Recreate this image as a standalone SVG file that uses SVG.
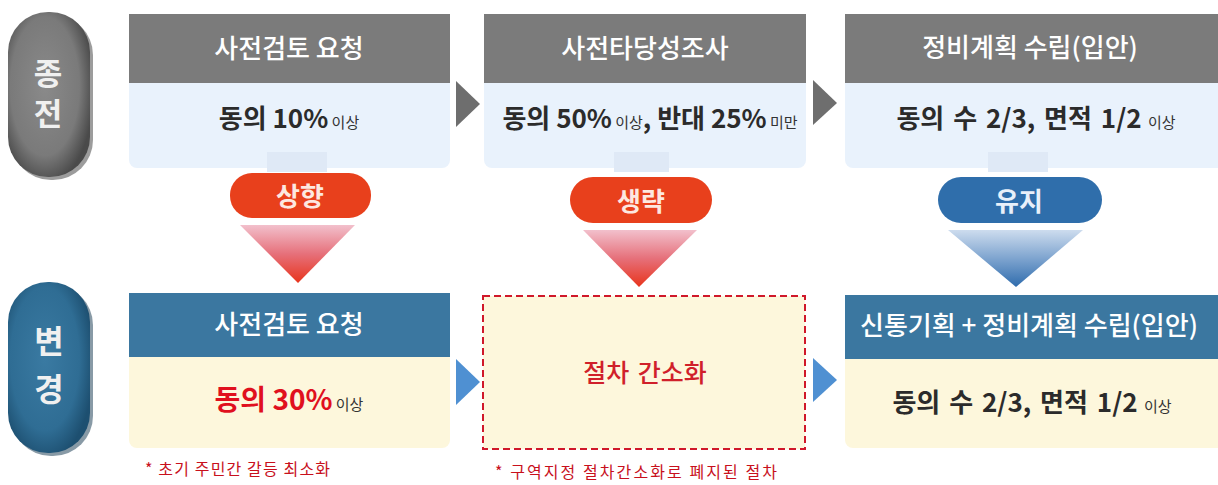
<svg xmlns="http://www.w3.org/2000/svg" width="1218" height="485" viewBox="0 0 1218 485">
<defs>
<style>
text{font-family:"Noto Sans CJK KR","Noto Sans",sans-serif;}
.hdr{fill:#ffffff;font-size:26px;font-weight:500;text-anchor:middle}
.hg{fill:#7b7b7b}
.hb{fill:#3b77a0}
.bg1{fill:#e9f2fc}
.bg2{fill:#fdf7dc}
.main{fill:#2b2b2b;font-size:26px;font-weight:700;text-anchor:middle}
.red{fill:#e0101e;font-size:28px}
.sm{font-size:15px;font-weight:400;fill:#333}
.side{fill:#f0f0f0;font-size:31px;font-weight:700;writing-mode:vertical-rl;text-orientation:upright}
.note{fill:#c8101c;font-size:16px}
.badge{fill:#fde8e0;font-size:26px;font-weight:700;text-anchor:middle}
.arrG{fill:#6e6e6e}
.arrB{fill:#4f90d2}
.stub{fill:#dfe9f6}
</style>
<radialGradient id="gGray" cx="0.45" cy="0.45" r="0.6">
<stop offset="0" stop-color="#8a8a8a"/><stop offset="0.7" stop-color="#7a7a7a"/><stop offset="1" stop-color="#4a4a4a"/>
</radialGradient>
<radialGradient id="gBlue" cx="0.45" cy="0.45" r="0.6">
<stop offset="0" stop-color="#3a7aa2"/><stop offset="0.7" stop-color="#2f6d94"/><stop offset="1" stop-color="#1d4f70"/>
</radialGradient>
<linearGradient id="triR" x1="0" y1="0" x2="0" y2="1">
<stop offset="0" stop-color="#f2c0cc"/><stop offset="0.5" stop-color="#e6707a"/><stop offset="1" stop-color="#e8341c"/>
</linearGradient>
<linearGradient id="triB" x1="0" y1="0" x2="0" y2="1">
<stop offset="0" stop-color="#cddcee"/><stop offset="0.5" stop-color="#7ea4cf"/><stop offset="1" stop-color="#2f6cad"/>
</linearGradient>
</defs>
<rect width="1218" height="485" fill="#ffffff"/>

<!-- side labels -->
<g id="side-before">
<rect x="11" y="15" width="82" height="165" rx="40" fill="#3a3a3a" opacity="0.5"/>
<rect x="8" y="12" width="82" height="165" rx="40" fill="url(#gGray)"/>
<text class="side" x="48" y="58" letter-spacing="9">종전</text>
</g>
<g id="side-after">
<rect x="11" y="285" width="82" height="171" rx="40" fill="#12364e" opacity="0.5"/>
<rect x="8" y="282" width="82" height="171" rx="40" fill="url(#gBlue)"/>
<text class="side" x="49" y="325" letter-spacing="16" style="font-size:32px">변경</text>
</g>

<!-- top row -->
<g id="top-1">
<rect class="hg" x="129" y="14" width="321" height="69"/>
<path class="bg1" d="M129 83H450V160a8 8 0 0 1-8 8H137a8 8 0 0 1-8-8Z"/>
<rect class="stub" x="267" y="152" width="60" height="20"/>
<text class="hdr" x="289" y="58">사전검토 요청</text>
<text class="main" x="289" y="128">동의 10%<tspan class="sm"> 이상</tspan></text>
</g>
<g id="top-2">
<rect class="hg" x="484" y="14" width="322" height="69"/>
<path class="bg1" d="M484 83H806V160a8 8 0 0 1-8 8H492a8 8 0 0 1-8-8Z"/>
<rect class="stub" x="614" y="152" width="55" height="20"/>
<text class="hdr" x="645" y="58">사전타당성조사</text>
<text class="main" x="650" y="128">동의 50%<tspan class="sm"> 이상</tspan>, 반대 25%<tspan class="sm"> 미만</tspan></text>
</g>
<g id="top-3">
<rect class="hg" x="845" y="14" width="380" height="69"/>
<path class="bg1" d="M845 83H1225V168H853a8 8 0 0 1-8-8Z"/>
<rect class="stub" x="988" y="152" width="60" height="20"/>
<text class="hdr" x="1030" y="57">정비계획 수립(입안)</text>
<text class="main" x="1036" y="128" word-spacing="3">동의 수 2/3, 면적 1/2<tspan class="sm"> 이상</tspan></text>
</g>

<!-- bottom row -->
<g id="bot-1">
<rect class="hb" x="129" y="293" width="321" height="64"/>
<path class="bg2" d="M129 357H450V440a8 8 0 0 1-8 8H137a8 8 0 0 1-8-8Z"/>
<text class="hdr" x="289" y="334">사전검토 요청</text>
<text class="main" x="289" y="410"><tspan class="red">동의 30%</tspan><tspan class="sm"> 이상</tspan></text>
</g>
<g id="bot-2">
<rect x="483" y="296" width="322" height="153" fill="#fdf7dc" stroke="#d0182a" stroke-width="2" stroke-dasharray="7 4"/>
<text x="645" y="382" fill="#d0202a" font-size="25" font-weight="500" text-anchor="middle" word-spacing="3">절차 간소화</text>
</g>
<g id="bot-3">
<rect class="hb" x="845" y="295" width="380" height="64"/>
<path class="bg2" d="M845 359H1225V448H853a8 8 0 0 1-8-8Z"/>
<text class="hdr" x="1029" y="335">신통기획 + 정비계획 수립(입안)</text>
<text class="main" x="1032" y="412" word-spacing="3">동의 수 2/3, 면적 1/2<tspan class="sm"> 이상</tspan></text>
</g>

<!-- badges -->
<g id="badge-up">
<rect x="230" y="173" width="141" height="45" rx="22" fill="#e8401c"/>
<text class="badge" x="300" y="206">상향</text>
</g>
<g id="badge-omit">
<rect x="570" y="177" width="142" height="46" rx="23" fill="#e8401c"/>
<text class="badge" x="641" y="211">생략</text>
</g>
<g id="badge-keep">
<rect x="938" y="177" width="164" height="46" rx="23" fill="#2f6eab"/>
<text class="badge" x="1019" y="211" style="fill:#e8f0fa">유지</text>
</g>

<!-- notes -->
<g id="note-1">
<text class="note" x="145" y="475" textLength="185">* 초기 주민간 갈등 최소화</text>
</g>
<g id="note-2">
<text class="note" x="495" y="478" textLength="282">* 구역지정 절차간소화로 폐지된 절차</text>
</g>

<!-- connectors -->
<g id="connectors">
<path class="arrG" d="M456 81L480 104L456 127Z"/>
<path class="arrG" d="M813 80L837 103L813 125Z"/>
<path class="arrB" d="M456 359L480 382L456 405Z"/>
<path class="arrB" d="M813 358L837 380L813 402Z"/>
<path d="M240 225H355L298 283Z" fill="url(#triR)"/>
<path d="M583 230H697L639 287Z" fill="url(#triR)"/>
<path d="M948 230H1083L1016 287Z" fill="url(#triB)"/>
</g>
</svg>
